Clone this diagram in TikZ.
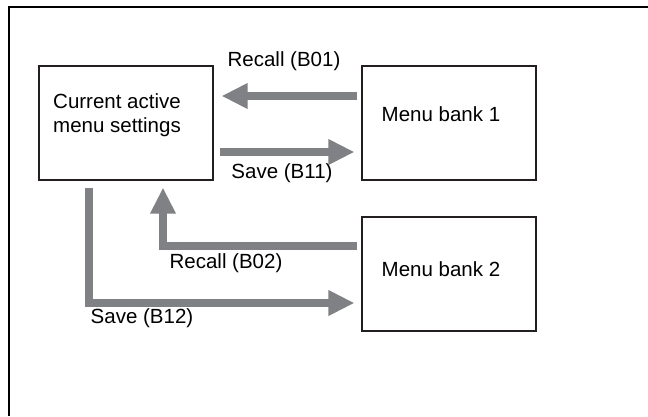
\documentclass[tikz,border=0pt]{standalone}
\usepackage{fontspec}
\setmainfont{Liberation Sans}
\usetikzlibrary{arrows.meta,calc}
\definecolor{arrowgray}{RGB}{128,129,132}
\definecolor{boxline}{RGB}{35,31,32}
\tikzset{
  bankbox/.style={draw=boxline, line width=1.2pt, minimum width=174pt, minimum height=114pt, inner sep=0pt},
  lbl/.style={font=\fontsize{20.5}{24}\selectfont, inner sep=0pt, text=black},
  bigarrow/.style={draw=arrowgray, line width=8pt, line join=miter, -{Triangle[length=26pt,width=24pt]}},
}
\begin{document}
\begin{tikzpicture}[x=1pt,y=-1pt]
\useasboundingbox (0,0) rectangle (648,416);
\fill[white] (0,0) rectangle (648,416);
% frame (top and left edges)
\draw[line width=2.3pt] (9,416) -- (9,7) -- (648,7);

\node[bankbox] (cur) at (126,123) {};
\node[bankbox] (m1) at (449,123) {};
\node[bankbox] (m2) at (449,274) {};

\node[lbl, align=left, anchor=west] (curtxt) at (53,115) {Current active\\menu settings};
\node[lbl] (m1txt) at (441,114) {Menu bank 1};
\node[lbl] (m2txt) at (441,269) {Menu bank 2};

% arrows
\draw[bigarrow] ($(m1.west)+(-4,-27)$) -- ($(cur.east)+(8,-27)$);
\draw[bigarrow] ($(cur.east)+(6,29)$) -- ($(m1.west)+(-7,29)$);
\draw[bigarrow] ($(m2.west)+(-4,-28)$) -| ($(cur.south)+(37,7)$);
\draw[bigarrow] ($(cur.south)+(-37,7)$) |- ($(m2.west)+(-7,29)$);

% labels
\node[lbl] (l01) at (284,61) {Recall (B01)};
\node[lbl] (l11) at (282,173) {Save (B11)};
\node[lbl] (l02) at (226,263) {Recall (B02)};
\node[lbl] (l12) at (142,318) {Save (B12)};
\end{tikzpicture}
\end{document}
